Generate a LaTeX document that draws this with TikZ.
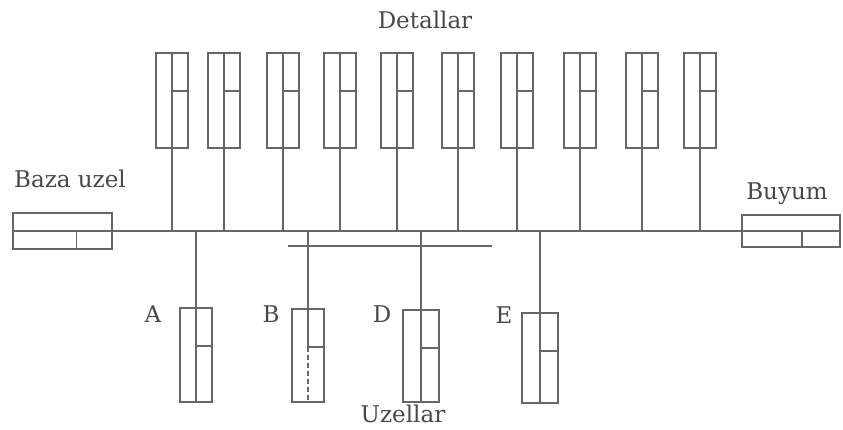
\documentclass[tikz,border=0pt]{standalone}
\usepackage{fontspec}
\setmainfont{DejaVu Serif}
\usepackage{tikz}

\tikzset{
  ln/.style={black!60,line width=1.6pt},
  part/.style={ln,draw,minimum width=32pt,minimum height=95pt,inner sep=0pt,
    path picture={
      \draw[ln] (path picture bounding box.north) -- (path picture bounding box.south);
      \draw[ln] ([yshift=-38pt]path picture bounding box.north)
        -- ([yshift=-38pt]path picture bounding box.north east);}},
  partdash/.style={ln,draw,minimum width=32pt,minimum height=95pt,inner sep=0pt,
    path picture={
      \draw[ln] (path picture bounding box.north) -- ([yshift=-38pt]path picture bounding box.north)
        -- ([yshift=-38pt]path picture bounding box.north east);
      \draw[ln,dash pattern=on 5pt off 3pt] ([yshift=-38pt]path picture bounding box.north)
        -- (path picture bounding box.south);}},
  endbox/.style={ln,draw,inner sep=0pt},
  lbl/.style={text=black!72,font=\fontsize{23}{26}\selectfont,inner sep=0pt,anchor=base},
}

\begin{document}
\begin{tikzpicture}[x=1pt,y=-1pt]
 \useasboundingbox (0,0) rectangle (843,429);
 \coordinate (bus) at (0,231);
 % details
 \node[part] (d1) at (172,100.5) {};
 \node[part] (d2) at (224,100.5) {};
 \node[part] (d3) at (283,100.5) {};
 \node[part] (d4) at (340,100.5) {};
 \node[part] (d5) at (397,100.5) {};
 \node[part] (d6) at (458,100.5) {};
 \node[part] (d7) at (517,100.5) {};
 \node[part] (d8) at (580,100.5) {};
 \node[part] (d9) at (642,100.5) {};
 \node[part] (d10) at (700,100.5) {};
 % base unit and product
 \node[endbox,minimum width=99pt,minimum height=36pt] (baza) at (62.5,231) {};
 \node[endbox,minimum width=98pt,minimum height=32pt] (buyum) at (791,231) {};
 \draw[ln] (baza.west) -- (buyum.east);
 \draw[ln] ([xshift=14pt]baza.center) -- ([xshift=14pt]baza.south);
 \draw[ln] ([xshift=11pt]buyum.center) -- ([xshift=11pt]buyum.south);
 \draw[ln] (d1.south) -- (d1.south |- bus);
 \draw[ln] (d2.south) -- (d2.south |- bus);
 \draw[ln] (d3.south) -- (d3.south |- bus);
 \draw[ln] (d4.south) -- (d4.south |- bus);
 \draw[ln] (d5.south) -- (d5.south |- bus);
 \draw[ln] (d6.south) -- (d6.south |- bus);
 \draw[ln] (d7.south) -- (d7.south |- bus);
 \draw[ln] (d8.south) -- (d8.south |- bus);
 \draw[ln] (d9.south) -- (d9.south |- bus);
 \draw[ln] (d10.south) -- (d10.south |- bus);
 % units
 \node[part,minimum height=94pt] (ua) at (196,355) {};
 \node[partdash,minimum height=93pt] (ub) at (308,355.5) {};
 \node[part,minimum width=36pt,minimum height=92pt] (ud) at (421,356) {};
 \node[part,minimum width=36pt,minimum height=90pt] (ue) at (540,358) {};
 \coordinate (sb1) at (288,246);
 \coordinate (sb2) at (492,246);
 \draw[ln] (sb1) -- (sb2);
 \draw[ln] (ua.north |- bus) -- (ua.north);
 \draw[ln] (ub.north |- bus) -- (ub.north);
 \draw[ln] (ud.north |- bus) -- (ud.north);
 \draw[ln] (ue.north |- bus) -- (ue.north);
 % labels
 \node[lbl] (detallar) at (425,28) {Detallar};
 \node[lbl] (bazalbl) at (70,187) {Baza uzel};
 \node[lbl] (buyumlbl) at (787,199) {Buyum};
 \node[lbl] (uzellar) at (403,422) {Uzellar};
 \node[lbl] (la) at (153,322) {A};
 \node[lbl] (lb) at (271,322) {B};
 \node[lbl] (ld) at (382,322) {D};
 \node[lbl] (le) at (504,323) {E};
\end{tikzpicture}
\end{document}
